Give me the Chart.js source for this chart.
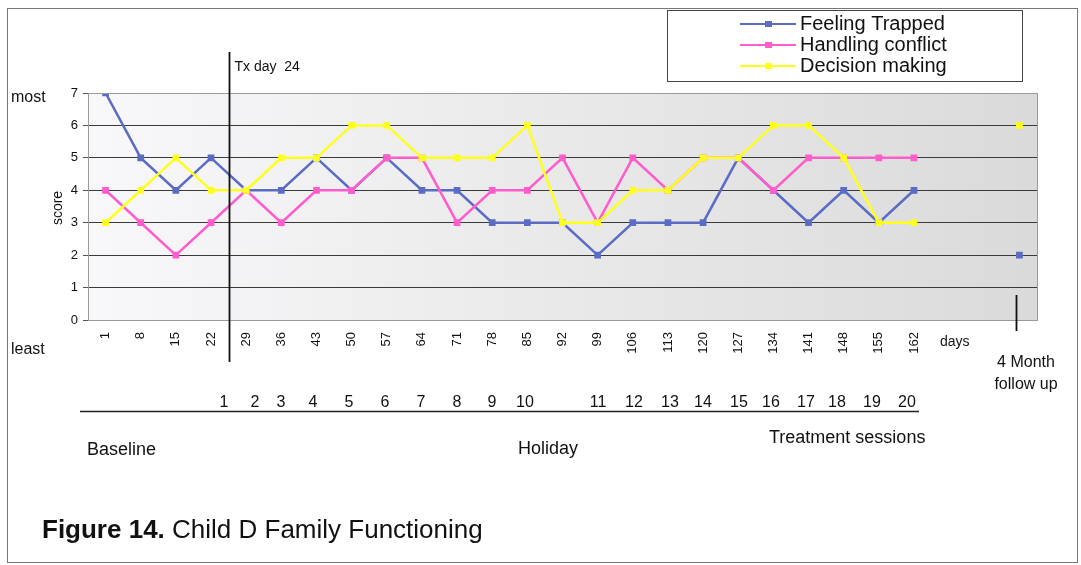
<!DOCTYPE html>
<html>
<head>
<meta charset="utf-8">
<script src="https://cdn.jsdelivr.net/npm/chart.js@4/dist/chart.umd.min.js"></script>
<style>
  body { margin: 0; background: #fff; }
  canvas { display: block; }
</style>
</head>
<body>
<canvas id="chart" width="1081" height="565"></canvas>
<script>
// days of measurement, two empty slots, then the 4 month follow up
const days = ['1','8','15','22','29','36','43','50','57','64','71','78','85','92','99','106','113','120','127','134','141','148','155','162','','',''];
const feelingTrapped = [7,5,4,5,4,4,5,4,5,4,4,3,3,3,2,3,3,3,5,4,3,4,3,4,null,null,2];
const handlingConflict = [4,3,2,3,4,3,4,4,5,5,3,4,4,5,3,5,4,5,5,4,5,5,5,5,null,null,null];
const decisionMaking = [3,4,5,4,4,5,5,6,6,5,5,5,6,3,3,4,4,5,5,6,6,5,3,3,null,null,6];
const sessions = ['1','2','3','4','5','6','7','8','9','10','11','12','13','14','15','16','17','18','19','20'];
const sessionX = [224,255,281,313,349,385,421,457,492,525,598,634,670,703,739,771,806,837,872,907];

const FONT = '"Liberation Sans", Arial, sans-serif';

function ds(label, data, color, order) {
  return {
    label: label,
    data: data,
    order: order,
    borderColor: color,
    backgroundColor: color,
    borderWidth: 2.5,
    pointStyle: 'rect',
    pointRadius: 3,
    pointHoverRadius: 3,
    tension: 0,
    spanGaps: false
  };
}

// plot background and frame
const plotBg = {
  id: 'plotBg',
  beforeDraw(chart) {
    const {ctx, chartArea: a} = chart;
    const g = ctx.createLinearGradient(a.left, 0, a.right, 0);
    g.addColorStop(0, '#f8f8fa');
    g.addColorStop(1, '#dadada');
    ctx.save();
    ctx.fillStyle = g;
    ctx.fillRect(a.left, a.top, a.right - a.left, a.bottom - a.top);
    ctx.restore();
  },
  afterDraw(chart) {
    const {ctx, chartArea: a} = chart;
    ctx.save();
    ctx.strokeStyle = '#9a9a9a';
    ctx.lineWidth = 1;
    ctx.strokeRect(a.left + 0.5, a.top + 0.5, a.right - a.left, a.bottom - a.top);
    ctx.restore();
  }
};

// extra figure text, lines and legend
const annotations = {
  id: 'annotations',
  afterDraw(chart) {
    const ctx = chart.ctx;
    const x = chart.scales.x;
    ctx.save();

    // outer frame
    ctx.strokeStyle = '#777';
    ctx.lineWidth = 1;
    ctx.strokeRect(7.5, 8.5, 1070, 554);

    // Tx day 24 line
    const tx = Math.round((x.getPixelForValue(3) + x.getPixelForValue(4)) / 2) + 0.5;
    ctx.strokeStyle = '#111';
    ctx.lineWidth = 1.8;
    ctx.beginPath();
    ctx.moveTo(tx, 52);
    ctx.lineTo(tx, 362);
    ctx.stroke();

    // follow up marker
    const fx = Math.round(x.getPixelForValue(26)) - 2.5;
    ctx.beginPath();
    ctx.moveTo(fx, 295);
    ctx.lineTo(fx, 331);
    ctx.stroke();

    ctx.fillStyle = '#111';
    ctx.textBaseline = 'middle';
    ctx.textAlign = 'left';
    ctx.font = '14px ' + FONT;
    ctx.fillText('Tx day  24', tx + 5, 67);

    ctx.font = '16px ' + FONT;
    ctx.fillText('most', 11, 98);
    ctx.fillText('least', 11, 350);

    ctx.font = '14px ' + FONT;
    ctx.fillText('days', 940, 342);

    ctx.textAlign = 'center';
    ctx.font = '16px ' + FONT;
    ctx.fillText('4 Month', 1026, 363);
    ctx.fillText('follow up', 1026, 385);

    ctx.save();
    ctx.translate(58, 208);
    ctx.rotate(-Math.PI / 2);
    ctx.font = '14px ' + FONT;
    ctx.fillText('score', 0, 0);
    ctx.restore();

    // session numbers and underline
    ctx.font = '16px ' + FONT;
    sessions.forEach((s, i) => ctx.fillText(s, sessionX[i], 403));
    ctx.lineWidth = 1.5;
    ctx.strokeStyle = '#222';
    ctx.beginPath();
    ctx.moveTo(80, 411.5);
    ctx.lineTo(919, 411.5);
    ctx.stroke();

    ctx.textAlign = 'left';
    ctx.font = '18px ' + FONT;
    ctx.fillText('Baseline', 87, 450);
    ctx.fillText('Holiday', 518, 449);
    ctx.fillText('Treatment sessions', 769, 438);

    // caption
    ctx.font = 'bold 26px ' + FONT;
    ctx.fillText('Figure 14.', 42, 531);
    const w = ctx.measureText('Figure 14. ').width;
    ctx.font = '26px ' + FONT;
    ctx.fillText('Child D Family Functioning', 42 + w, 531);

    // legend
    ctx.fillStyle = '#fff';
    ctx.fillRect(667, 10, 355, 71);
    ctx.strokeStyle = '#444';
    ctx.lineWidth = 1;
    ctx.strokeRect(667.5, 10.5, 355, 71);
    ctx.font = '20px ' + FONT;
    chart.data.datasets.forEach((d, i) => {
      const ly = 24 + i * 21;
      ctx.strokeStyle = d.borderColor;
      ctx.lineWidth = 2;
      ctx.beginPath();
      ctx.moveTo(740, ly);
      ctx.lineTo(796, ly);
      ctx.stroke();
      ctx.fillStyle = d.borderColor;
      ctx.fillRect(765, ly - 3, 7, 6);
      ctx.fillStyle = '#111';
      ctx.fillText(d.label, 800, ly);
    });

    ctx.restore();
  }
};

new Chart(document.getElementById('chart'), {
  type: 'line',
  data: {
    labels: days,
    datasets: [
      ds('Feeling Trapped', feelingTrapped, '#5a6cc4', 2),
      ds('Handling conflict', handlingConflict, '#ff5ccc', 1),
      ds('Decision making', decisionMaking, '#ffff1e', 0)
    ]
  },
  options: {
    responsive: false,
    devicePixelRatio: 1,
    animation: false,
    layout: { padding: { top: 93, right: 44, left: 0, bottom: 0 } },
    plugins: {
      legend: { display: false },
      tooltip: { enabled: false }
    },
    scales: {
      x: {
        offset: true,
        grid: { display: false },
        border: { color: '#777' },
        ticks: {
          color: '#111',
          font: { family: FONT, size: 13 },
          minRotation: 90,
          maxRotation: 90,
          autoSkip: false,
          padding: 4
        },
        afterFit(s) { s.height = 245; }
      },
      y: {
        min: 0,
        max: 7,
        border: { color: '#555' },
        grid: { color: '#3a3a3a', lineWidth: 1, tickLength: 5, tickColor: '#555' },
        ticks: {
          stepSize: 1,
          color: '#111',
          font: { family: FONT, size: 13 },
          padding: 5
        },
        afterFit(s) { s.width = 88; }
      }
    }
  },
  plugins: [plotBg, annotations]
});
</script>
</body>
</html>
